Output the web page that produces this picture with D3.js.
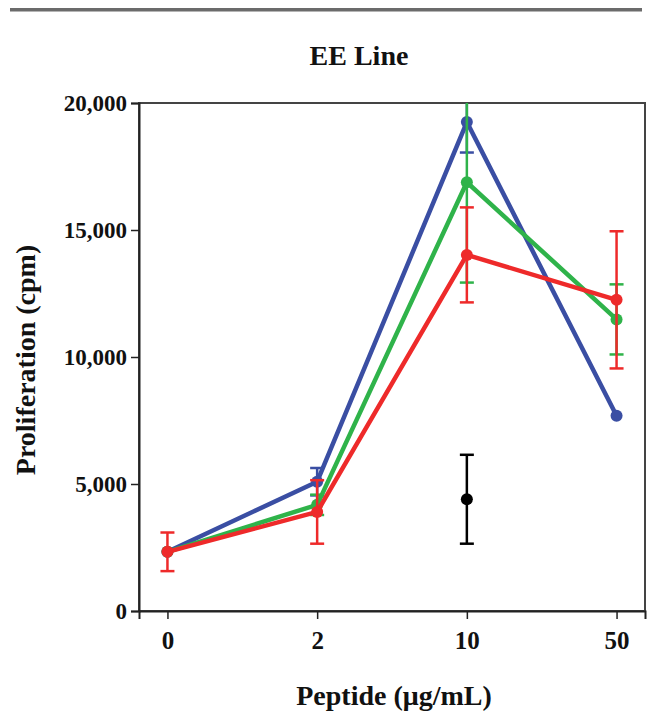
<!DOCTYPE html>
<html lang="en">
<head>
  <meta charset="utf-8">
  <script src="https://d3js.org/d3.v7.min.js"></script>
  <style>
    body { margin: 0; background: #fff; }
    text { font-family: "Liberation Serif", "Times New Roman", serif; font-weight: bold; fill: #111; }
  </style>
</head>
<body>
  <svg id="chart" width="649" height="711"></svg>

  <script>
    // dose categories on the x axis
    const doses = ["0", "2", "10", "50"];
    const yTicks = [0, 5000, 10000, 15000, 20000];

    // means and error (half-width) per series
    const blueMean = [2330, 5090, 19250, 7690];
    const blueErr = [0, 540, 1200, 0];
    const greenMean = [2330, 4180, 16880, 11480];
    const greenErr = [0, 400, 3950, 1380];
    const redMean = [2330, 3900, 14020, 12250];
    const redErr = [760, 1250, 1870, 2700];
    // single control point at 10 ug/mL
    const ctrlDose = ["10"];
    const ctrlMean = [4400];
    const ctrlErr = [1750];

    const svg = d3.select("svg#chart");
    const width = +svg.attr("width");
    const margin = { top: 103, right: 4, bottom: 100, left: 139 };
    const plotBottom = 611;

    // top grey rule
    svg.append("rect")
      .attr("x", 10).attr("y", 8)
      .attr("width", 632).attr("height", 3.5)
      .attr("fill", "#6b6b6b");

    svg.append("text")
      .attr("x", 359).attr("y", 65)
      .attr("text-anchor", "middle")
      .attr("font-size", 28)
      .text("EE Line");

    const x = d3.scalePoint()
      .domain(doses)
      .range([margin.left, width - margin.right])
      .padding(0.19);

    const y = d3.scaleLinear()
      .domain([0, 20000])
      .range([plotBottom, margin.top]);

    svg.append("clipPath").attr("id", "plotclip")
      .append("rect")
      .attr("x", margin.left).attr("y", margin.top)
      .attr("width", width - margin.right - margin.left)
      .attr("height", plotBottom - margin.top);

    // frame
    svg.append("rect")
      .attr("x", margin.left).attr("y", margin.top)
      .attr("width", width - margin.right - margin.left)
      .attr("height", plotBottom - margin.top)
      .attr("fill", "none")
      .attr("stroke", "#444")
      .attr("stroke-width", 2);

    const yAxis = svg.append("g")
      .attr("transform", "translate(" + margin.left + ",0)")
      .call(d3.axisLeft(y).tickValues(yTicks).tickSize(8).tickPadding(4)
        .tickFormat(d3.format(",")));
    yAxis.selectAll("text").attr("font-size", 23);

    const xAxis = svg.append("g")
      .attr("transform", "translate(0," + plotBottom + ")")
      .call(d3.axisBottom(x).tickSize(8).tickPadding(12));
    xAxis.selectAll("text").attr("font-size", 25);

    [yAxis, xAxis].forEach((g) => {
      g.select(".domain").attr("stroke", "#222").attr("stroke-width", 2);
      g.selectAll(".tick line").attr("stroke", "#222").attr("stroke-width", 1.5);
      g.selectAll("text").attr("fill", "#111");
    });

    svg.append("text")
      .attr("transform", "translate(35,360) rotate(-90)")
      .attr("text-anchor", "middle")
      .attr("font-size", 28)
      .text("Proliferation (cpm)");

    svg.append("text")
      .attr("x", 394).attr("y", 705)
      .attr("text-anchor", "middle")
      .attr("font-size", 28)
      .text("Peptide (μg/mL)");

    const plot = svg.append("g").attr("clip-path", "url(#plotclip)");

    function drawSeries(cats, means, errs, color, withLine) {
      const rows = cats.map((c, i) => ({ c: c, m: means[i], e: errs[i] }));
      const g = plot.append("g");
      if (withLine) {
        g.append("path")
          .datum(rows)
          .attr("fill", "none")
          .attr("stroke", color)
          .attr("stroke-width", 4.5)
          .attr("stroke-linejoin", "round")
          .attr("d", d3.line().x((d) => x(d.c)).y((d) => y(d.m)));
      }
      const eb = g.selectAll("g.err")
        .data(rows.filter((d) => d.e > 0))
        .join("g")
        .attr("stroke", color)
        .attr("stroke-width", 2.5);
      eb.append("line")
        .attr("x1", (d) => x(d.c)).attr("x2", (d) => x(d.c))
        .attr("y1", (d) => y(d.m - d.e)).attr("y2", (d) => y(d.m + d.e));
      [1, -1].forEach((s) => {
        eb.append("line")
          .attr("x1", (d) => x(d.c) - 7).attr("x2", (d) => x(d.c) + 7)
          .attr("y1", (d) => y(d.m + s * d.e)).attr("y2", (d) => y(d.m + s * d.e));
      });
      g.selectAll("circle")
        .data(rows)
        .join("circle")
        .attr("cx", (d) => x(d.c))
        .attr("cy", (d) => y(d.m))
        .attr("r", 6)
        .attr("fill", color);
    }

    drawSeries(ctrlDose, ctrlMean, ctrlErr, "#000", false);
    drawSeries(doses, blueMean, blueErr, "#3a4ea3", true);
    drawSeries(doses, greenMean, greenErr, "#2fb34a", true);
    drawSeries(doses, redMean, redErr, "#ee2a2a", true);
  </script>
</body>
</html>
